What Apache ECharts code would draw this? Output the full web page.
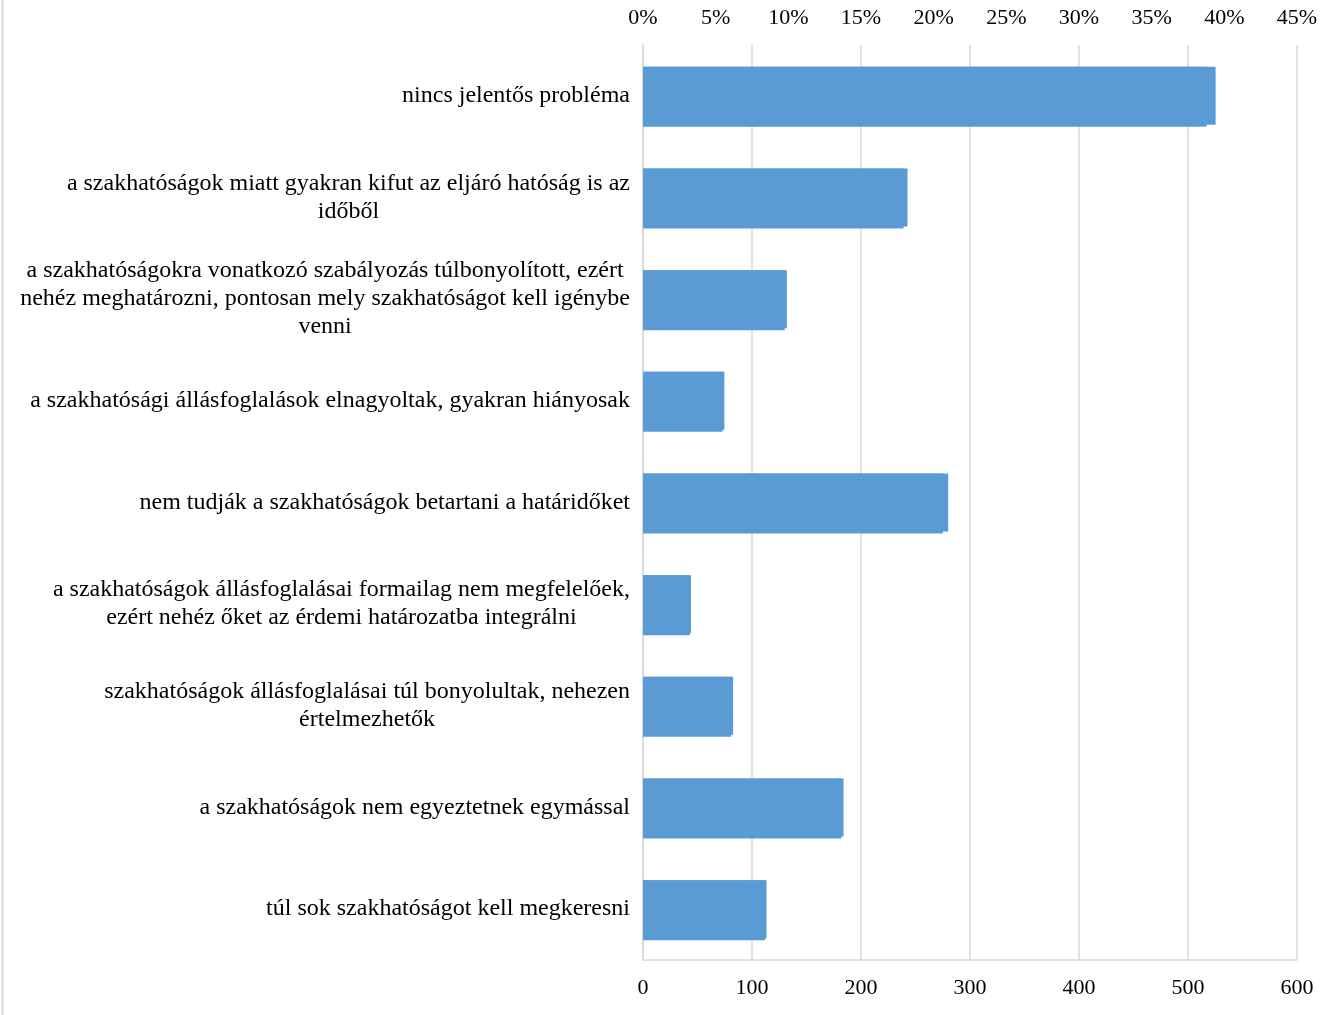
<!DOCTYPE html>
<html>
<head>
<meta charset="utf-8">
<script src="https://cdn.jsdelivr.net/npm/echarts@6/dist/echarts.min.js"></script>
<style>
html,body{margin:0;padding:0;background:#fff;}
#chart{width:1325px;height:1015px;}
</style>
</head>
<body>
<div id="chart"></div>
<script>
const categories = [
  'nincs jelentős probléma',
  'a szakhatóságok miatt gyakran kifut az eljáró hatóság is az\nidőből',
  'a szakhatóságokra vonatkozó szabályozás túlbonyolított, ezért\nnehéz meghatározni, pontosan mely szakhatóságot kell igénybe\nvenni',
  'a szakhatósági állásfoglalások elnagyoltak, gyakran hiányosak',
  'nem tudják a szakhatóságok betartani a határidőket',
  'a szakhatóságok állásfoglalásai formailag nem megfelelőek,\nezért nehéz őket az érdemi határozatba integrálni',
  'szakhatóságok állásfoglalásai túl bonyolultak, nehezen\nértelmezhetők',
  'a szakhatóságok nem egyeztetnek egymással',
  'túl sok szakhatóságot kell megkeresni'
];
const counts = [517, 239, 130, 73, 275, 43, 81, 182, 112];
const percents = [39.4, 18.2, 9.9, 5.6, 21.0, 3.3, 6.2, 13.8, 8.5];
const countTicks = {min: 0, max: 600, interval: 100};
const pctTicks = {min: 0, max: 45, interval: 5};

const font = 'Liberation Serif';
const chart = echarts.init(document.getElementById('chart'));
chart.setOption({
  animation: false,
  textStyle: {fontFamily: font},
  grid: {left: 643, right: 28, top: 45, bottom: 55, containLabel: false},
  graphic: [{
    type: 'line', shape: {x1: 2.5, y1: 0, x2: 2.5, y2: 1015},
    style: {stroke: '#d9d9d9', lineWidth: 2}
  }],
  xAxis: [{
    type: 'value', position: 'bottom',
    min: countTicks.min, max: countTicks.max, interval: countTicks.interval,
    axisLine: {show: true, lineStyle: {color: '#d9d9d9', width: 1.5}},
    axisTick: {show: false},
    splitLine: {show: true, lineStyle: {color: '#d9d9d9', width: 1.5}},
    axisLabel: {fontFamily: font, fontSize: 22, color: '#000', margin: 17}
  }, {
    type: 'value', position: 'top',
    min: pctTicks.min, max: pctTicks.max, interval: pctTicks.interval,
    axisLine: {show: false},
    axisTick: {show: false},
    splitLine: {show: false},
    axisLabel: {fontFamily: font, fontSize: 22, color: '#000', margin: 16, formatter: '{value}%'}
  }],
  yAxis: {
    type: 'category', data: categories, inverse: true,
    axisLine: {show: true, lineStyle: {color: '#d9d9d9', width: 1.5}},
    axisTick: {show: false},
    axisLabel: {
      fontFamily: font, fontSize: 24, color: '#000', margin: 13, align: 'right', lineHeight: 28,
      formatter: function (v) { return v.split('\n').map(function (l) { return '{c|' + l + '}'; }).join('\n'); },
      rich: {c: {align: 'center', fontFamily: font, fontSize: 24, lineHeight: 28, color: '#000'}}
    }
  },
  series: [{
    type: 'bar', xAxisIndex: 0, data: counts,
    barWidth: 60, barGap: '-100%',
    itemStyle: {color: '#5b9bd5'}
  }, {
    type: 'bar', xAxisIndex: 1, data: percents,
    barWidth: 58, barGap: '-100%',
    itemStyle: {color: '#5b9bd5'}
  }]
});
</script>
</body>
</html>
